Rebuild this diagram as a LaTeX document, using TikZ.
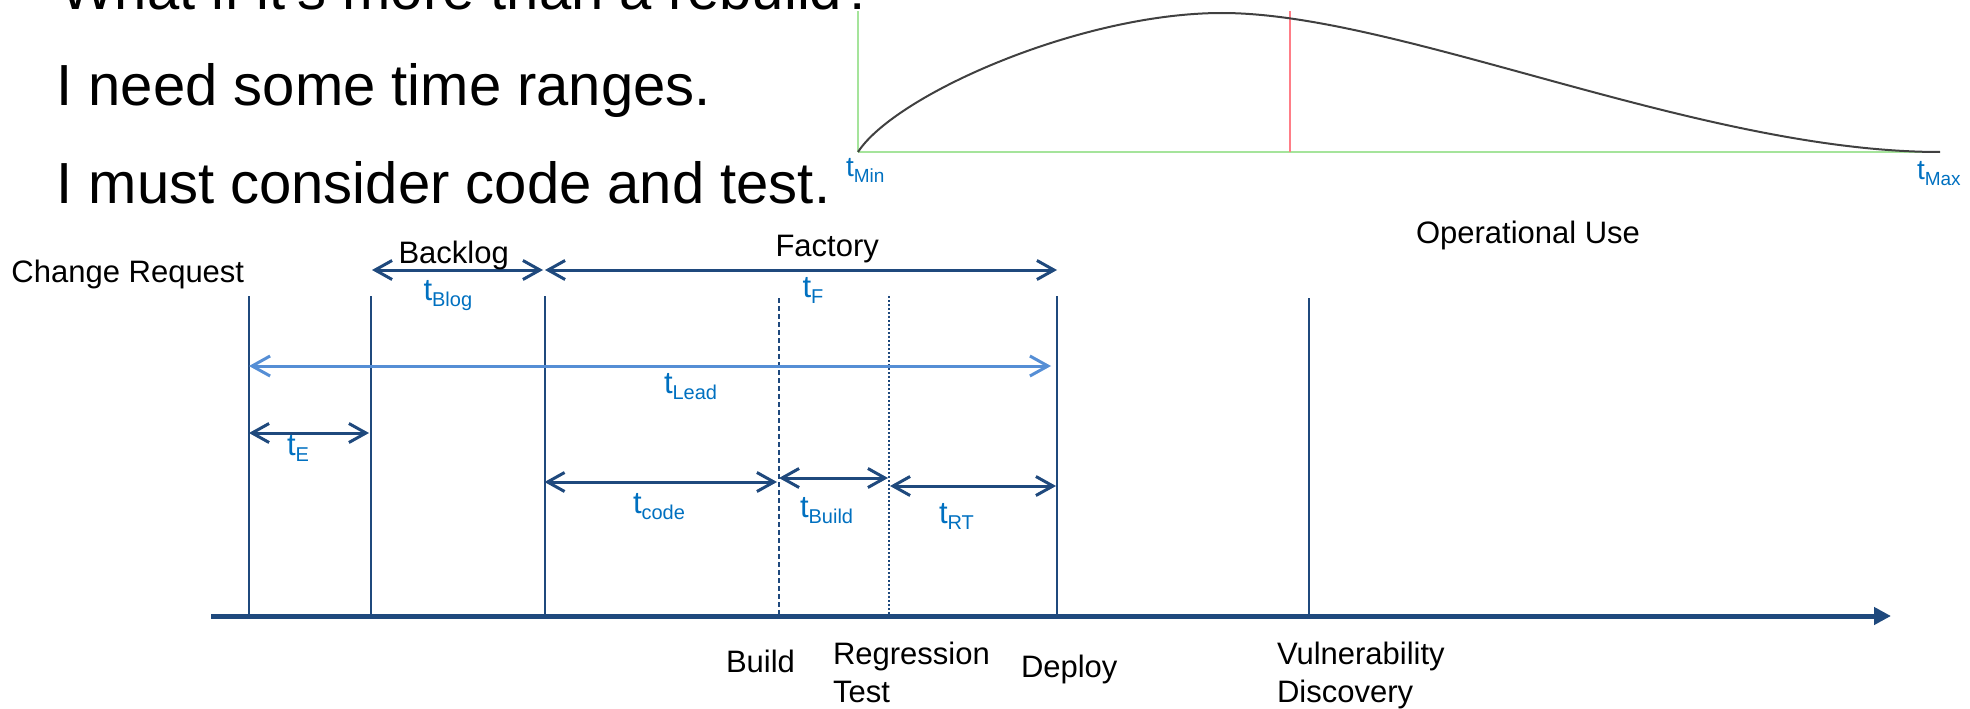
\documentclass[tikz,border=0pt]{standalone}
\usepackage{fontspec}
\setmainfont{Liberation Sans}
\usetikzlibrary{arrows.meta}

\definecolor{navy}{RGB}{31,73,125}
\definecolor{skyline}{RGB}{85,142,213}
\definecolor{tblue}{RGB}{0,112,192}
\definecolor{curvegray}{RGB}{64,64,64}
\definecolor{paleg}{RGB}{165,228,155}
\definecolor{palered}{RGB}{255,125,135}

% time symbol with a lowered, smaller index
\newcommand\tsym[1]{t\raisebox{-6.5pt}{\fontsize{20}{20}\selectfont #1}}
\newcommand\tsmall[1]{t\raisebox{-6pt}{\fontsize{19}{19}\selectfont #1}}

\tikzset{
  txt/.style={anchor=base west, inner sep=0pt, outer sep=0pt, font=\fontsize{31}{37}\selectfont},
  ttxt/.style={txt, text=tblue},
  tsmalltxt/.style={anchor=base west, inner sep=0pt, outer sep=0pt, text=tblue, font=\fontsize{28}{28}\selectfont},
  bigtxt/.style={anchor=base west, inner sep=0pt, outer sep=0pt, font=\fontsize{58}{58}\selectfont},
  tickline/.style={navy, line width=2pt},
  dashtick/.style={navy, line width=1.5pt, dash pattern=on 5pt off 3pt},
  dottick/.style={navy, line width=1.5pt, dash pattern=on 2pt off 2pt},
  spanarrow/.style={navy, line width=3pt,
    {Straight Barb[length=17pt,width=19pt]}-{Straight Barb[length=17pt,width=19pt]}},
  leadarrow/.style={skyline, line width=3pt,
    {Straight Barb[length=18pt,width=20pt]}-{Straight Barb[length=18pt,width=20pt]}},
}

\begin{document}
\begin{tikzpicture}[x=1pt,y=-1pt]
\useasboundingbox (0,0) rectangle (1970,709);

% --- headline text
\node[bigtxt] (q1) at (60,10) {What if it's more than a rebuild?};
\node[bigtxt] (q2) at (56.5,105) {I need some time ranges.};
\node[bigtxt] (q3) at (56.5,203) {I must consider code and test.};

% --- distribution panel
\coordinate (gv0) at (858,11);
\coordinate (g0) at (858,152);
\coordinate (g1) at (1940,152);
\coordinate (rv0) at (1290,11);
\coordinate (rv1) at (1290,152);
\coordinate (peak) at (1222,13);
\draw[paleg, line width=2pt] (gv0) -- (g0);
\draw[paleg, line width=2.5pt] (g0) -- (g1);
\draw[palered, line width=2pt] (rv0) -- (rv1);
\draw[curvegray, line width=2pt]
  (g0) .. controls (895,95) and (1080,13) .. (peak)
       .. controls (1400,13) and (1700,152) .. (g1);
\node[tsmalltxt] (tmin) at (846,176) {\tsmall{Min}};
\node[tsmalltxt] (tmax) at (1917,179) {\tsmall{Max}};

% --- event markers
\coordinate (cr0) at (249,296);   \coordinate (cr1) at (249,616);
\coordinate (bk0) at (371,296);   \coordinate (bk1) at (371,616);
\coordinate (fa0) at (544.5,296); \coordinate (fa1) at (544.5,616);
\coordinate (bu0) at (779,298);   \coordinate (bu1) at (779,616);
\coordinate (rt0) at (889,296);   \coordinate (rt1) at (889,616);
\coordinate (de0) at (1056.5,296);\coordinate (de1) at (1056.5,616);
\coordinate (vu0) at (1309,298);  \coordinate (vu1) at (1309,616);
\draw[tickline] (cr0) -- (cr1);
\draw[tickline] (bk0) -- (bk1);
\draw[tickline] (fa0) -- (fa1);
\draw[dashtick] (bu0) -- (bu1);
\draw[dottick] (rt0) -- (rt1);
\draw[tickline] (de0) -- (de1);
\draw[tickline] (vu0) -- (vu1);

% --- time axis
\coordinate (ax0) at (211,616);
\coordinate (ax1) at (1891,616);
\draw[navy, line width=5pt, -{Triangle[length=17pt,width=17pt]}] (ax0) -- (ax1);

% --- spans
\coordinate (blogL) at (372,270);  \coordinate (blogR) at (543,270);
\coordinate (facL) at (545,270);   \coordinate (facR) at (1057,270);
\coordinate (leadL) at (249,366);  \coordinate (leadR) at (1051,366);
\coordinate (eL) at (249,433);     \coordinate (eR) at (369,433);
\coordinate (codeL) at (544.5,482);\coordinate (codeR) at (777,482);
\coordinate (buildL) at (779,478); \coordinate (buildR) at (888,478);
\coordinate (rtL) at (890,486);    \coordinate (rtR) at (1056,486);
\draw[spanarrow] (blogL) -- (blogR);
\draw[spanarrow] (facL) -- (facR);
\draw[leadarrow] (leadL) -- (leadR);
\draw[spanarrow] (eL) -- (eR);
\draw[spanarrow] (codeL) -- (codeR);
\draw[spanarrow] (buildL) -- (buildR);
\draw[spanarrow] (rtL) -- (rtR);

% --- phase labels
\node[txt] (chg) at (11.5,282) {Change Request};
\node[txt] (backlog) at (398.5,263) {Backlog};
\node[txt] (factory) at (775.5,256) {Factory};
\node[txt] (opuse) at (1416,243) {Operational Use};

% --- duration labels
\node[ttxt] (tblog) at (423.5,300) {\tsym{Blog}};
\node[ttxt] (tf) at (802.5,297) {\tsym{F}};
\node[ttxt] (tlead) at (664,393) {\tsym{Lead}};
\node[ttxt] (te) at (287,455) {\tsym{E}};
\node[ttxt] (tcode) at (633,513) {\tsym{code}};
\node[ttxt] (tbuild) at (800,517) {\tsym{Build}};
\node[ttxt] (trt) at (939,523) {\tsym{RT}};

% --- event labels
\node[txt] (lbuild) at (726,672) {Build};
\node[txt] (lreg1) at (833,664) {Regression};
\node[txt] (lreg2) at (833,702) {Test};
\node[txt] (ldeploy) at (1021,677) {Deploy};
\node[txt] (lvul1) at (1277,664) {Vulnerability};
\node[txt] (lvul2) at (1277,702) {Discovery};
\end{tikzpicture}
\end{document}
